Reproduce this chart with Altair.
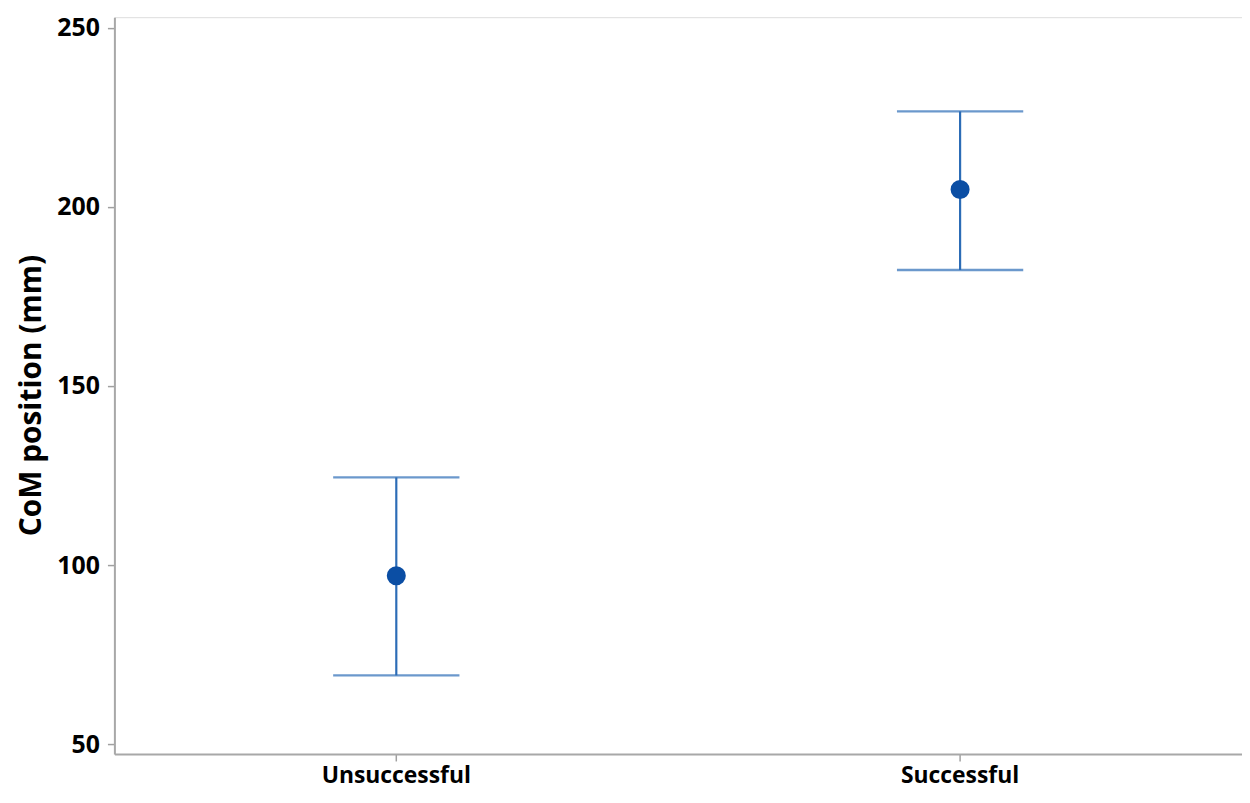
import altair as alt
import pandas as pd

groups = ["Unsuccessful", "Successful"]
means = [97.0, 204.9]
lowers = [69.2, 182.4]
uppers = [124.5, 226.7]

df = pd.DataFrame({"group": groups, "mean": means, "lo": lowers, "hi": uppers})

LINE = "#2c6cb6"
DOT = "#0b4ea4"
FONT = "Open Sans"

x = alt.X("group:N", sort=groups, title=None,
          scale=alt.Scale(paddingInner=0, paddingOuter=0),
          axis=alt.Axis(labelAngle=0, labelFontSize=23, labelFont=FONT, labelFontWeight="bold",
                        labelColor="black", tickColor="#a0a0a0", tickSize=7, tickWidth=1.5,
                        domainColor="#a8a8a8", domainWidth=2, labelPadding=4))
yscale = alt.Scale(domain=[47.25, 253.0], nice=False, zero=False)
yaxis = alt.Axis(values=[50, 100, 150, 200, 250], grid=False, labelFontSize=25, labelFont=FONT,
                 labelFontWeight="bold", labelColor="black", tickColor="#a0a0a0", tickSize=7,
                 tickWidth=1.5, domainColor="#a8a8a8", domainWidth=2, labelPadding=8,
                 title="CoM position (mm)", titleFontSize=30, titleFont=FONT, titleFontWeight="bold",
                 titleColor="black", titleAngle=270, titleAlign="center", titleBaseline="middle",
                 titleX=-83, titleY=380)

base = alt.Chart(df)
rule = base.mark_rule(color=LINE, strokeWidth=2.2).encode(
    x=x, y=alt.Y("lo:Q", scale=yscale, axis=yaxis), y2="hi:Q")
cap_lo = base.mark_tick(color=LINE, size=127, thickness=2.4, orient="horizontal").encode(
    x=x, y=alt.Y("lo:Q", scale=yscale))
cap_hi = base.mark_tick(color=LINE, size=127, thickness=2.4, orient="horizontal").encode(
    x=x, y=alt.Y("hi:Q", scale=yscale))
pts = base.mark_point(filled=True, color=DOT, size=366, opacity=1, shape="circle").encode(
    x=x, y=alt.Y("mean:Q", scale=yscale))

chart = alt.layer(rule, cap_lo, cap_hi, pts).properties(
    width=1134, height=741,
    autosize=alt.AutoSizeParams(type="none"),
    padding={"left": 107, "top": 7, "right": 0, "bottom": 40},
).configure_view(stroke="#a8a8a8", strokeWidth=2).configure(background="white")

chart.save("out.html", embed_options={"renderer": "svg", "actions": False})
